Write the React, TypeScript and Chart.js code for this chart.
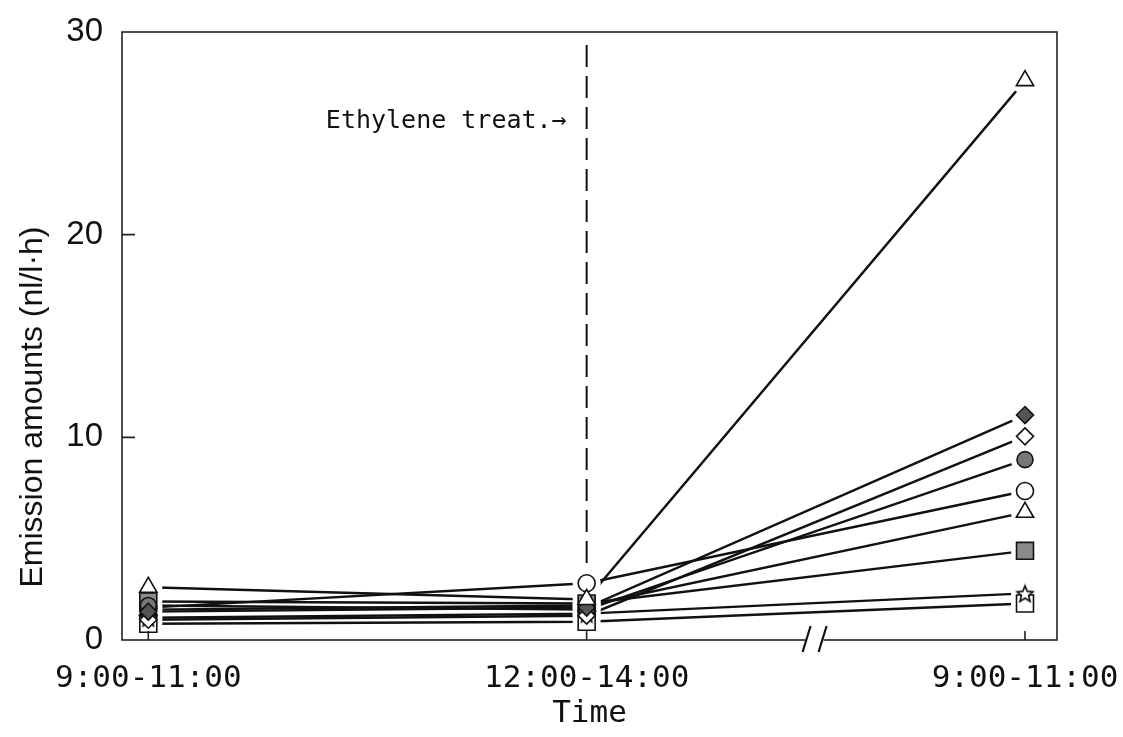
import React, { useEffect, useRef } from "react";
import { Chart, registerables } from "chart.js";

Chart.register(...registerables);

// ---------- data ----------
const categories = ["9:00-11:00", "12:00-14:00", "9:00-11:00"];
const xPositions = [0, 1, 2];
const yTicks = [0, 10, 20, 30];

const triangleLarge = [2.6, 2.0, 27.6];
const diamondFilled = [1.4, 1.6, 11.1];
const diamondOpen = [1.0, 1.2, 10.05];
const circleFilled = [1.7, 1.5, 8.9];
const circleOpen = [1.6, 2.8, 7.35];
const triangleOpen = [1.5, 1.7, 6.3];
const squareGray = [1.9, 1.8, 4.4];
const starOpen = [1.1, 1.3, 2.3];
const squareOpen = [0.8, 0.9, 1.8];

const treatmentAt = 1; // ethylene treatment time (x index)
const breakAt = 1.52; // axis break position (x index)
const annotationText = "Ethylene treat.→";
const annotationValue = 25.6;
const yTitle = "Emission amounts (nl/l·h)";
const xTitle = "Time";

function makeStar(size: number): HTMLCanvasElement {
  const c = document.createElement("canvas");
  c.width = size;
  c.height = size;
  const ctx = c.getContext("2d")!;
  const cx = size / 2;
  const cy = size / 2 + 1;
  const R = size / 2 - 1.5;
  const r = R * 0.45;
  ctx.beginPath();
  for (let i = 0; i < 10; i++) {
    const a = -Math.PI / 2 + (i * Math.PI) / 5;
    const rr = i % 2 ? r : R;
    ctx.lineTo(cx + rr * Math.cos(a), cy + rr * Math.sin(a));
  }
  ctx.closePath();
  ctx.fillStyle = "#fff";
  ctx.fill();
  ctx.lineWidth = 1.7;
  ctx.strokeStyle = "#111";
  ctx.stroke();
  return c;
}

const decorPlugin = {
  id: "decor",
  beforeDatasetsDraw(chart: any) {
    const { ctx, chartArea, scales } = chart;
    const { top } = chartArea;
    const x = scales.x;
    const y = scales.y;
    const px = x.getPixelForValue(treatmentAt);
    ctx.save();
    ctx.strokeStyle = "#111";
    ctx.lineWidth = 2;
    ctx.setLineDash([22, 9]);
    ctx.beginPath();
    ctx.moveTo(px, top + 13);
    ctx.lineTo(px, y.getPixelForValue(3.6));
    ctx.stroke();
    ctx.restore();
  },
  afterDatasetsDraw(chart: any) {
    const { ctx, chartArea, scales } = chart;
    const { left, top, right, bottom } = chartArea;
    const x = scales.x;
    const y = scales.y;
    ctx.save();
    // frame
    ctx.strokeStyle = "#222";
    ctx.lineWidth = 1.6;
    ctx.strokeRect(left, top, right - left, bottom - top);
    // inward ticks
    ctx.beginPath();
    [10, 20].forEach((v) => {
      const py = y.getPixelForValue(v);
      ctx.moveTo(left, py);
      ctx.lineTo(left + 13, py);
    });
    xPositions.forEach((v) => {
      const px = x.getPixelForValue(v);
      ctx.moveTo(px, bottom);
      ctx.lineTo(px, bottom - 9);
    });
    ctx.stroke();
    // axis break
    const bx = x.getPixelForValue(breakAt);
    ctx.fillStyle = "#fff";
    ctx.fillRect(bx - 9, bottom - 3, 18, 6);
    ctx.strokeStyle = "#111";
    ctx.lineWidth = 2.2;
    ctx.beginPath();
    [-8, 8].forEach((d) => {
      ctx.moveTo(bx + d - 4, bottom + 12);
      ctx.lineTo(bx + d + 4, bottom - 14);
    });
    ctx.stroke();
    // annotation
    const px = x.getPixelForValue(treatmentAt);
    ctx.fillStyle = "#111";
    ctx.font = "25px 'DejaVu Sans Mono'";
    ctx.textAlign = "right";
    ctx.textBaseline = "middle";
    ctx.fillText(annotationText, px - 20, y.getPixelForValue(annotationValue));
    // y title
    ctx.translate(33, (top + bottom) / 2 + 71);
    ctx.rotate(-Math.PI / 2);
    ctx.textAlign = "center";
    ctx.font = "32px 'Liberation Sans'";
    ctx.fillText(yTitle, 0, 0);
    ctx.restore();
  },
};

type Series = {
  data: number[];
  style: any;
  radius: number;
  fill: string;
};

const series: Series[] = [
  { data: triangleLarge, style: "triangle", radius: 10, fill: "#fff" },
  { data: diamondFilled, style: "rectRot", radius: 8.5, fill: "#555" },
  { data: diamondOpen, style: "rectRot", radius: 8.5, fill: "#fff" },
  { data: circleFilled, style: "circle", radius: 8, fill: "#777" },
  { data: circleOpen, style: "circle", radius: 8.5, fill: "#fff" },
  { data: triangleOpen, style: "triangle", radius: 10, fill: "#fff" },
  { data: squareGray, style: "rect", radius: 12, fill: "#8a8a8a" },
  { data: starOpen, style: "star5", radius: 10, fill: "#fff" },
  { data: squareOpen, style: "rect", radius: 12, fill: "#fff" },
];

export default function App() {
  const ref = useRef<HTMLCanvasElement | null>(null);
  useEffect(() => {
    if (!ref.current) return;
    const star = makeStar(20);
    const pts = (d: number[]) => xPositions.map((xv, i) => ({ x: xv, y: d[i] }));
    const lineSets = series.map((s) => ({
      data: pts(s.data),
      borderColor: "#111",
      borderWidth: 2.4,
      pointRadius: 0,
      showLine: true,
      fill: false,
      tension: 0,
      order: 3,
    }));
    const haloSets = series.map((s) => ({
      data: pts(s.data),
      showLine: false,
      pointStyle: "circle",
      pointRadius: 14,
      pointBackgroundColor: "#fff",
      pointBorderColor: "#fff",
      pointBorderWidth: 0,
      order: 2,
    }));
    const markerSets = series.map((s) => ({
      data: pts(s.data),
      showLine: false,
      pointStyle: s.style === "star5" ? star : s.style,
      pointRadius: s.radius,
      pointBackgroundColor: s.fill,
      pointBorderColor: "#111",
      pointBorderWidth: 1.6,
      order: 1,
    }));
    const chart = new Chart(ref.current, {
      type: "line",
      data: { datasets: [...lineSets, ...haloSets, ...markerSets] as any },
      options: {
        animation: false,
        responsive: false,
        layout: { padding: { top: 32, right: 66, left: 0, bottom: 0 } },
        plugins: { legend: { display: false }, tooltip: { enabled: false } },
        scales: {
          x: {
            type: "linear",
            min: -0.06,
            max: 2.073,
            afterBuildTicks: (s: any) => {
              s.ticks = xPositions.map((v) => ({ value: v }));
            },
            afterFit: (s: any) => {
              s.height = 97;
              s.paddingLeft = 0;
              s.paddingRight = 0;
            },
            grid: { display: false, drawTicks: false },
            border: { display: false },
            ticks: {
              padding: 20,
              color: "#111",
              maxRotation: 0,
              autoSkip: false,
              font: { family: "'DejaVu Sans Mono'", size: 31 },
              callback: (v: any) => categories[xPositions.indexOf(Number(v))] ?? "",
            },
            title: {
              display: true,
              text: xTitle,
              color: "#111",
              font: { family: "'DejaVu Sans Mono'", size: 31 },
              padding: { top: 0, bottom: 4 },
            },
          },
          y: {
            min: 0,
            max: 30,
            afterBuildTicks: (s: any) => {
              s.ticks = yTicks.map((v) => ({ value: v }));
            },
            afterFit: (s: any) => {
              s.width = 122;
              s.paddingTop = 0;
              s.paddingBottom = 0;
            },
            grid: { display: false, drawTicks: false },
            border: { display: false },
            ticks: {
              padding: 19,
              color: "#111",
              font: { family: "'Liberation Sans'", size: 33 },
            },
          },
        },
      } as any,
      plugins: [decorPlugin],
    });
    return () => chart.destroy();
  }, []);
  return (
    <div style={{ position: "absolute", left: 0, top: 0, width: 1123, height: 737, background: "#fff" }}>
      <canvas ref={ref} width={1123} height={737} style={{ width: 1123, height: 737, display: "block" }} />
    </div>
  );
}
